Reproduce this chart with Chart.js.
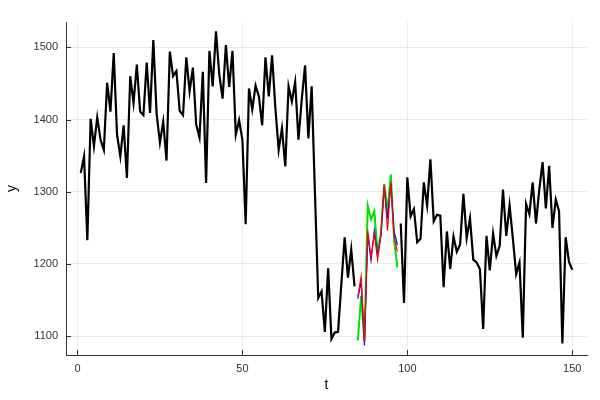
<!DOCTYPE html>
<html>
<head>
<meta charset="utf-8">
<script src="https://cdn.jsdelivr.net/npm/chart.js@4/dist/chart.umd.min.js"></script>
<style>
  html, body { margin: 0; padding: 0; background: #fff; }
  #wrap { width: 600px; height: 400px; }
</style>
</head>
<body>
<div id="wrap"><canvas id="c" width="600" height="400"></canvas></div>
<script>
// ---- data ----
const observedStart = 1;
const observed = [
  1326, 1349, 1233, 1401, 1363, 1403, 1372, 1358, 1451, 1411,
  1492, 1379, 1349, 1392, 1319, 1460, 1423, 1476, 1411, 1406,
  1479, 1409, 1510, 1408, 1368, 1397, 1343, 1494, 1460, 1467,
  1412, 1406, 1486, 1439, 1472, 1393, 1375, 1466, 1312, 1495,
  1446, 1522, 1462, 1429, 1503, 1445, 1495, 1379, 1399, 1372,
  1255, 1443, 1414, 1447, 1432, 1392, 1486, 1432, 1489, 1416,
  1358, 1388, 1335, 1446, 1425, 1452, 1372, 1428, 1475, 1374,
  1446, 1298, 1153, 1162, 1106, 1194, 1096, 1105, 1106, 1172,
  1237, 1181, 1220, 1169,
  null, null, null, null, null, null, null, null, null, null, null, null, null,
  1256, 1146, 1320, 1266, 1276, 1230, 1235, 1313, 1281, 1345,
  1259, 1268, 1267, 1168, 1245, 1193, 1238, 1217, 1227, 1297,
  1236, 1263, 1206, 1202, 1193, 1110, 1239, 1191, 1242, 1211,
  1225, 1303, 1239, 1281, 1235, 1186, 1202, 1098, 1283, 1269,
  1313, 1256, 1303, 1341, 1277, 1336, 1250, 1289, 1273, 1090,
  1237, 1203, 1192
];
const forecastStart = 85;
const forecastRed   = [1155, 1183, 1092, 1247, 1209, 1242, 1206, 1242, 1310, 1246, 1314, 1237, 1217];
const forecastBlue  = [1152, 1176, 1087, 1240, 1205, 1246, 1212, 1240, 1307, 1263, 1311, 1245, 1226];
const forecastGreen = [1094, 1156, 1093, 1281, 1262, 1273, 1215, 1242, 1311, 1274, 1324, 1232, 1195];
const xTicks = [0, 50, 100, 150];
const yTicks = [1100, 1200, 1300, 1400, 1500];
const xLabel = 't';
const yLabel = 'y';

function toPoints(start, arr) {
  return arr.map((v, i) => ({ x: start + i, y: v }));
}

// axis limits widened 3% each side like Plots.jl
function widen(lo, hi) { const d = (hi - lo) * 0.03; return [lo - d, hi + d]; }
const allT = [observedStart, observedStart + observed.length - 1];
const allY = observed.concat(forecastRed, forecastBlue, forecastGreen).filter(v => v !== null);
const [xMin, xMax] = widen(allT[0], allT[1]);
const [yMin, yMax] = widen(Math.min(...allY), Math.max(...allY));

const FONT = '"Liberation Sans", "DejaVu Sans", sans-serif';

const inwardTicks = {
  id: 'inwardTicks',
  afterDatasetsDraw(chart) {
    const ctx = chart.ctx;
    const xs = chart.scales.x, ys = chart.scales.y;
    const ca = chart.chartArea;
    ctx.save();
    ctx.strokeStyle = '#333';
    ctx.lineWidth = 1;
    ctx.beginPath();
    xTicks.forEach(v => {
      const px = Math.round(xs.getPixelForValue(v)) + 0.5;
      ctx.moveTo(px, ca.bottom);
      ctx.lineTo(px, ca.bottom - 5);
    });
    yTicks.forEach(v => {
      const py = Math.round(ys.getPixelForValue(v)) + 0.5;
      ctx.moveTo(ca.left, py);
      ctx.lineTo(ca.left + 5, py);
    });
    ctx.stroke();
    ctx.restore();
  }
};

new Chart(document.getElementById('c'), {
  type: 'line',
  data: {
    datasets: [
      { data: toPoints(observedStart, observed), borderColor: '#000', borderWidth: 2.2, spanGaps: false },
      { data: toPoints(forecastStart, forecastRed), borderColor: '#ff0000', borderWidth: 1.2 },
      { data: toPoints(forecastStart, forecastBlue), borderColor: '#0000ff', borderWidth: 1.2 },
      { data: toPoints(forecastStart, forecastGreen), borderColor: '#00e000', borderWidth: 2 }
    ]
  },
  options: {
    responsive: false,
    animation: false,
    events: [],
    parsing: true,
    elements: { point: { radius: 0 }, line: { tension: 0, borderJoinStyle: 'miter', fill: false } },
    layout: { padding: { left: 0, right: 13, top: 22, bottom: 0 } },
    plugins: { legend: { display: false }, tooltip: { enabled: false } },
    scales: {
      x: {
        type: 'linear',
        min: xMin, max: xMax,
        afterBuildTicks: s => { s.ticks = xTicks.map(v => ({ value: v })); },
        afterFit: s => { s.height = 45; },
        grid: { color: 'rgba(0,0,0,0.08)', lineWidth: 1, drawTicks: false },
        border: { display: true, color: '#333', width: 1 },
        ticks: { color: '#333', font: { family: FONT, size: 11 }, padding: 7, maxRotation: 0, callback: v => String(v) },
        title: { display: true, text: xLabel, color: '#000', font: { family: FONT, size: 14 }, padding: { top: 0, bottom: 6 } }
      },
      y: {
        type: 'linear',
        min: yMin, max: yMax,
        afterBuildTicks: s => { s.ticks = yTicks.map(v => ({ value: v })); },
        afterFit: s => { s.width = 66; },
        grid: { color: 'rgba(0,0,0,0.08)', lineWidth: 1, drawTicks: false },
        border: { display: true, color: '#333', width: 1 },
        ticks: { color: '#333', font: { family: FONT, size: 11 }, padding: 8, callback: v => String(v) },
        title: { display: true, text: yLabel, color: '#000', font: { family: FONT, size: 14 }, padding: { top: 4, bottom: 0 } }
      }
    }
  },
  plugins: [inwardTicks]
});
</script>
</body>
</html>
